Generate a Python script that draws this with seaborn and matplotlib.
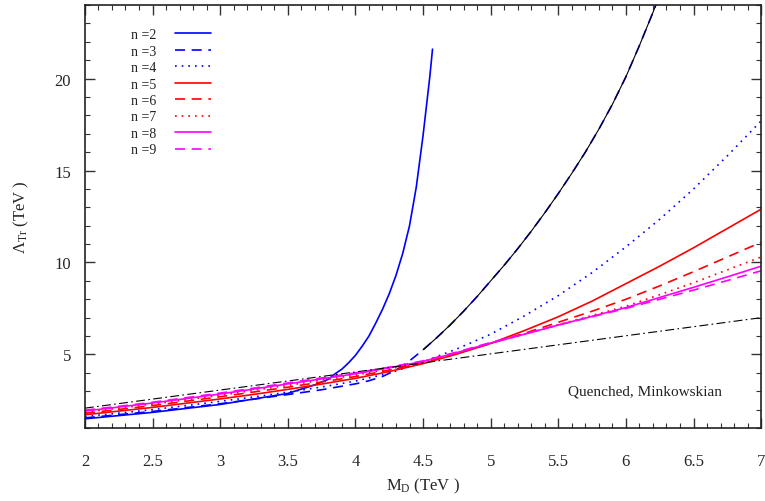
import matplotlib
matplotlib.use("Agg")
import matplotlib.pyplot as plt
import seaborn as sns
import numpy as np
import pandas as pd
from matplotlib.ticker import MultipleLocator

# ---- data ----
x_grid = [2.0, 2.25, 2.5, 2.75, 3.0, 3.25, 3.5, 3.75, 4.0, 4.25, 4.5,
          4.75, 5.0, 5.25, 5.5, 5.75, 6.0, 6.25, 6.5, 6.75, 7.0]
n4 = [1.63, 1.81, 2.00, 2.22, 2.45, 2.69, 2.95, 3.23, 3.55, 3.98, 4.60,
      5.30, 6.10, 7.10, 8.20, 9.45, 10.85, 12.35, 14.00, 15.80, 17.70]
n5 = [1.72, 1.92, 2.12, 2.35, 2.58, 2.83, 3.10, 3.39, 3.70, 4.07, 4.50,
      5.02, 5.60, 6.30, 7.05, 7.90, 8.85, 9.80, 10.80, 11.85, 12.90]
n6 = [1.80, 2.01, 2.22, 2.46, 2.70, 2.96, 3.22, 3.50, 3.80, 4.15, 4.55,
      5.05, 5.60, 6.15, 6.75, 7.35, 8.00, 8.73, 9.50, 10.30, 11.10]
n7 = [1.86, 2.08, 2.30, 2.54, 2.78, 3.05, 3.32, 3.60, 3.88, 4.21, 4.58,
      5.07, 5.60, 6.10, 6.62, 7.12, 7.62, 8.25, 8.90, 9.60, 10.30]
n8 = [1.92, 2.14, 2.36, 2.60, 2.85, 3.12, 3.40, 3.67, 3.95, 4.27, 4.62,
      5.10, 5.62, 6.10, 6.60, 7.07, 7.55, 8.10, 8.65, 9.22, 9.80]
n9 = [1.97, 2.18, 2.40, 2.65, 2.90, 3.17, 3.45, 3.72, 4.00, 4.31, 4.65,
      5.13, 5.65, 6.12, 6.60, 7.05, 7.50, 8.00, 8.50, 9.02, 9.55]

x_dashdot = [2.0, 7.0]
dashdot = [2.08, 7.00]

x_n3 = [2.0, 2.5, 3.0, 3.5, 3.75, 4.0, 4.1, 4.2, 4.3, 4.4, 4.5, 4.6, 4.7,
        4.8, 4.9, 5.0, 5.1, 5.2, 5.3, 5.4, 5.5, 5.6, 5.7, 5.8, 5.9, 6.0,
        6.1, 6.2, 6.3]
n3 = [1.55, 1.90, 2.32, 2.82, 3.08, 3.40, 3.57, 3.80, 4.15, 4.65, 5.25,
      5.90, 6.60, 7.35, 8.15, 9.00, 9.85, 10.75, 11.70, 12.70, 13.75,
      14.85, 16.00, 17.25, 18.60, 20.10, 21.80, 23.60, 25.50]

x_black = [4.5, 4.6, 4.7, 4.8, 4.9, 5.0, 5.1, 5.2, 5.3, 5.4, 5.5, 5.6,
           5.7, 5.8, 5.9, 6.0, 6.1, 6.2, 6.3]
black = [5.25, 5.90, 6.60, 7.35, 8.15, 9.00, 9.85, 10.75, 11.70, 12.70,
         13.75, 14.85, 16.00, 17.25, 18.60, 20.10, 21.80, 23.60, 25.50]

x_n2 = [2.0, 2.5, 3.0, 3.5, 3.7, 3.8, 3.85, 3.9, 3.95, 4.0, 4.05, 4.1,
        4.15, 4.2, 4.25, 4.3, 4.35, 4.4, 4.45, 4.5, 4.55, 4.57]
n2 = [1.50, 1.85, 2.28, 2.88, 3.35, 3.65, 3.95, 4.20, 4.55, 4.95, 5.45,
      6.00, 6.70, 7.45, 8.30, 9.30, 10.50, 12.00, 14.10, 16.90, 20.10, 21.60]

labels = ["n =2", "n =3", "n =4", "n =5", "n =6", "n =7", "n =8", "n =9"]
x_ticks = [2, 2.5, 3, 3.5, 4, 4.5, 5, 5.5, 6, 6.5, 7]
x_tick_labels = ["2", "2.5", "3", "3.5", "4", "4.5", "5", "5.5", "6", "6.5", "7"]
y_ticks = [5, 10, 15, 20]

# ---- style ----
sns.set_style("ticks")
plt.rcParams["font.family"] = ["Liberation Serif", "DejaVu Serif"]
plt.rcParams["mathtext.fontset"] = "custom"
plt.rcParams["mathtext.rm"] = "Liberation Serif"
plt.rcParams["mathtext.it"] = "Liberation Serif:italic"

fig = plt.figure(figsize=(7.65, 5.02), dpi=100)
ax = fig.add_axes([0.111, 0.1454, 0.884, 0.8426])

series = [
    (x_n2, n2, "#0000ff", "-"),
    (x_n3, n3, "#0000ff", (0, (6, 4))),
    (x_grid, n4, "#0000ff", (0, (1, 3))),
    (x_grid, n5, "#ff0000", "-"),
    (x_grid, n6, "#ff0000", (0, (6, 4))),
    (x_grid, n7, "#ff0000", (0, (1, 3))),
    (x_grid, n8, "#ff00ff", "-"),
    (x_grid, n9, "#ff00ff", (0, (6, 4))),
]
for (xs, ys, c, ls), lab in zip(series, labels):
    sns.lineplot(x=xs, y=ys, ax=ax, color=c, linestyle=ls, linewidth=1.2,
                 label=lab, sort=True)

sns.lineplot(x=x_black, y=black, ax=ax, color="black", linestyle="-",
             linewidth=0.8, label="_nolegend_")
sns.lineplot(x=x_dashdot, y=dashdot, ax=ax, color="black",
             linestyle=(0, (8, 3, 1.5, 3)), linewidth=0.8, label="_nolegend_")

ax.set_xlim(2, 7)
ax.set_ylim(1, 24)
ax.set_xticks(x_ticks)
ax.set_xticklabels(x_tick_labels)
ax.set_yticks(y_ticks)
ax.xaxis.set_minor_locator(MultipleLocator(0.1))
ax.yaxis.set_minor_locator(MultipleLocator(1))
ax.tick_params(which="both", direction="in", top=True, right=True,
               labelsize=12, color="#333333")
ax.tick_params(which="major", length=7, width=1.0)
ax.tick_params(which="minor", length=3.5, width=0.8)
ax.tick_params(axis="x", which="major", pad=18)
ax.tick_params(axis="y", which="major", pad=10)
for s in ax.spines.values():
    s.set_linewidth(1.2)
    s.set_color("#222222")

ax.set_xlabel(r"$\mathrm{M_D}$ (TeV )", fontsize=12, labelpad=5)
ax.set_ylabel(r"$\Lambda_{\mathrm{Tr}}$ (TeV )", fontsize=12, labelpad=17)

ax.text(6.14, 3.0, "Quenched, Minkowskian", fontsize=11, ha="center",
        va="center", color="#222222")

leg = ax.legend(loc="upper left", bbox_to_anchor=(0.05, 0.975), frameon=False,
                markerfirst=False, fontsize=10, handlelength=2.6,
                labelspacing=0.25, handletextpad=1.3)
for t in leg.get_texts():
    t.set_color("#222222")

fig.savefig("out.png", dpi=100)
